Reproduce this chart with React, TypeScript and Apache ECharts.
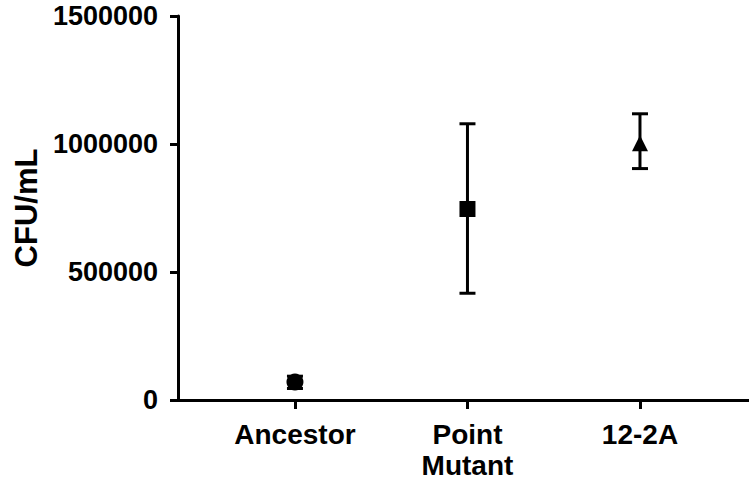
import React, { useEffect, useRef } from "react";
import * as echarts from "echarts";

const categories = ["Ancestor", "Point\nMutant", "12-2A"];
const means = [70000, 746000, 1003000];
const lows = [45000, 417000, 904000];
const highs = [93000, 1079000, 1118000];
const symbols = ["circle", "rect", "triangle"];
const yTicks = [0, 500000, 1000000, 1500000];

const FONT = "'Liberation Sans', Arial, Helvetica, sans-serif";

export default function App() {
  const ref = useRef<HTMLDivElement>(null);
  useEffect(() => {
    if (!ref.current) return;
    const chart = echarts.init(ref.current, undefined, { renderer: "svg" });
    const errData = categories.map((_, i) => [i, lows[i], highs[i]]);
    const scatterData = categories.map((_, i) => ({
      value: [i, means[i]],
      symbol: symbols[i],
      symbolSize: i === 0 ? 17 : 16,
    }));
    chart.setOption({
      animation: false,
      backgroundColor: "#ffffff",
      grid: { left: 178, right: 0, top: 16, bottom: 80, containLabel: false },
      xAxis: {
        type: "value",
        min: -0.678,
        max: 2.632,
        splitLine: { show: false },
        axisLine: { show: true, onZero: false, lineStyle: { color: "#000", width: 3 } },
        axisTick: {
          show: true,
          customValues: [0, 1, 2],
          length: 9,
          lineStyle: { color: "#000", width: 3 },
        },
        axisLabel: {
          show: true,
          customValues: [0, 1, 2],
          formatter: (v: number) => categories[Math.round(v)] ?? "",
          color: "#000",
          fontFamily: FONT,
          fontWeight: "bold",
          fontSize: 28,
          lineHeight: 31,
          margin: 19,
        },
      },
      yAxis: {
        type: "value",
        min: 0,
        max: yTicks[yTicks.length - 1],
        interval: 500000,
        name: "CFU/mL",
        nameLocation: "middle",
        nameGap: 136,
        nameTextStyle: {
          color: "#000",
          fontFamily: FONT,
          fontWeight: "bold",
          fontSize: 31,
        },
        splitLine: { show: false },
        axisLine: { show: true, onZero: false, lineStyle: { color: "#000", width: 3 } },
        axisTick: { show: true, length: 8, lineStyle: { color: "#000", width: 3 } },
        axisLabel: {
          color: "#000",
          fontFamily: FONT,
          fontWeight: "bold",
          fontSize: 27,
          margin: 20,
          formatter: (v: number) => String(v),
        },
      },
      series: [
        {
          type: "custom",
          data: errData,
          z: 3,
          renderItem: (params: any, api: any) => {
            const x = api.value(0);
            const lo = api.coord([x, api.value(1)]);
            const hi = api.coord([x, api.value(2)]);
            const hw = 8;
            const style = { stroke: "#000", lineWidth: 3 };
            return {
              type: "group",
              children: [
                { type: "line", shape: { x1: lo[0], y1: lo[1], x2: hi[0], y2: hi[1] }, style },
                { type: "line", shape: { x1: hi[0] - hw, y1: hi[1], x2: hi[0] + hw, y2: hi[1] }, style },
                { type: "line", shape: { x1: lo[0] - hw, y1: lo[1], x2: lo[0] + hw, y2: lo[1] }, style },
              ],
            };
          },
        },
        {
          type: "scatter",
          data: scatterData,
          z: 4,
          itemStyle: { color: "#000", opacity: 1 },
        },
      ],
    });
    return () => chart.dispose();
  }, []);
  return <div ref={ref} style={{ width: 749, height: 481, position: "absolute", left: 0, top: 0 }} />;
}
